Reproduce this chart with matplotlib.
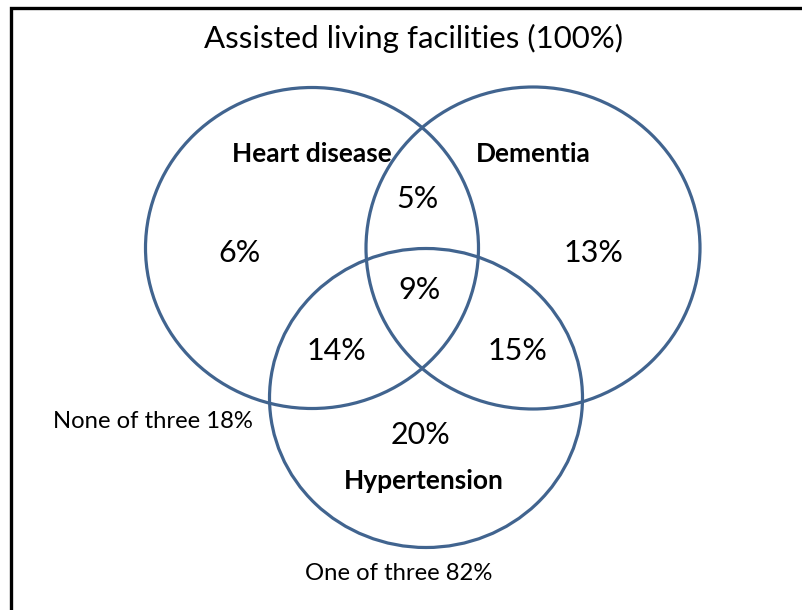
import matplotlib

matplotlib.use("Agg")
import matplotlib.pyplot as plt
from matplotlib.patches import Ellipse

# data
title = "Assisted living facilities (100%)"
set_names = ["Heart disease", "Dementia", "Hypertension"]
region_keys = ["H", "D", "HD", "HDY", "HY", "DY", "Y"]
region_values = [6, 13, 5, 9, 14, 15, 20]
none_label = "None of three"
none_value = 18
any_label = "One of three"
any_value = 82

# layout (pixel coords, y down)
W, H = 802, 610
circles = [(312, 248, 333, 321), (533, 248, 334, 322), (426, 398, 313, 299)]
name_pos = [(312, 154), (533, 154), (424, 481)]
region_pos = {
    "H": (240, 253), "D": (593, 253), "HD": (417, 199), "HDY": (420, 290),
    "HY": (336, 351), "DY": (517, 351), "Y": (420, 435),
}
edge = "#41648f"
font = "Lato"

fig = plt.figure(figsize=(W / 100, H / 100), dpi=100)
ax = fig.add_axes([0, 0, 1, 1])
ax.set_xlim(0, W)
ax.set_ylim(H, 0)
ax.set_axis_off()

# frame (only top and left edges are visible in the crop)
ax.plot([11, 11, W + 5], [H + 5, 8, 8], color="black", lw=2.4, solid_joinstyle="miter", clip_on=False)

for cx, cy, w, h in circles:
    ax.add_patch(Ellipse((cx, cy), w, h, fill=False, ec=edge, lw=2.3))

ax.text(413, 38, title, ha="center", va="center", fontsize=22.5, family=font)

for name, (x, y) in zip(set_names, name_pos):
    ax.text(x, y, name, ha="center", va="center", fontsize=19, fontweight="bold", family=font)

for key, val in zip(region_keys, region_values):
    x, y = region_pos[key]
    ax.text(x, y, f"{val}%", ha="center", va="center", fontsize=22, family=font)

ax.text(153, 422, f"{none_label} {none_value}%", ha="center", va="center", fontsize=17.2, family=font)
ax.text(399, 573, f"{any_label} {any_value}%", ha="center", va="center", fontsize=17.2, family=font)

fig.savefig("out.png", dpi=100)
